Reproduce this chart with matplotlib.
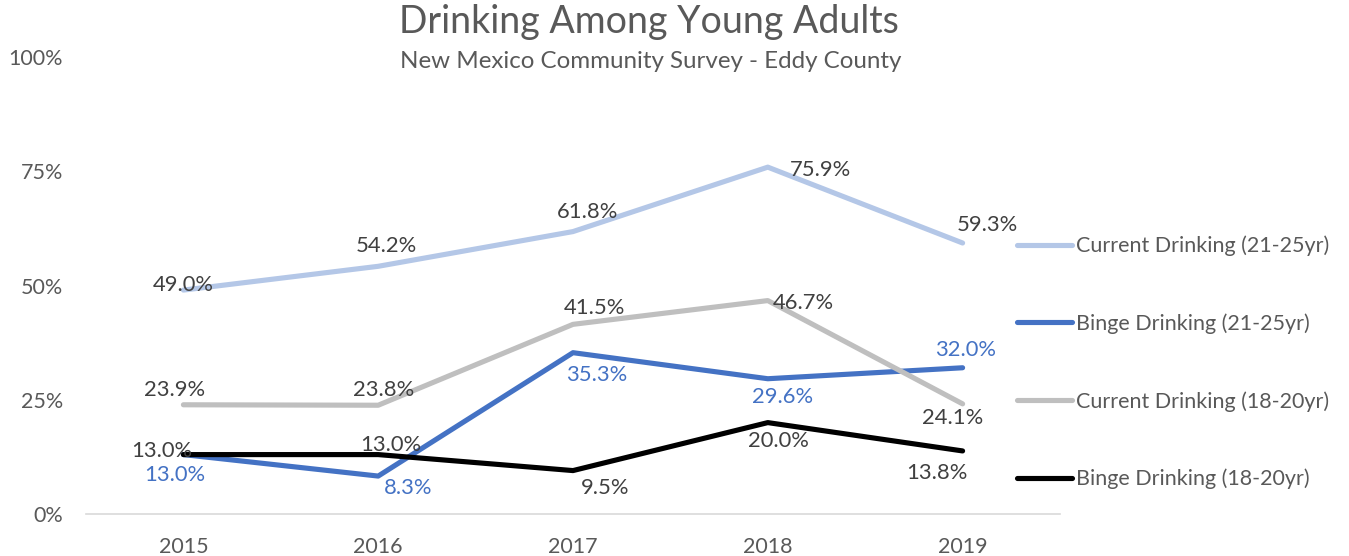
import matplotlib
matplotlib.use("Agg")
import matplotlib.pyplot as plt

plt.rcParams['font.family'] = ['Lato', 'DejaVu Sans']

years = ['2015', '2016', '2017', '2018', '2019']

current_21_25 = [49.0, 54.2, 61.8, 75.9, 59.3]
binge_21_25 = [13.0, 8.3, 35.3, 29.6, 32.0]
current_18_20 = [23.9, 23.8, 41.5, 46.7, 24.1]
binge_18_20 = [13.0, 13.0, 9.5, 20.0, 13.8]

series_names = ['Current Drinking (21-25yr)', 'Binge Drinking (21-25yr)',
                'Current Drinking (18-20yr)', 'Binge Drinking (18-20yr)']
series_values = [current_21_25, binge_21_25, current_18_20, binge_18_20]
line_colors = ['#B4C7E7', '#4472C4', '#BFBFBF', '#000000']
label_colors = ['#404040', '#4472C4', '#404040', '#404040']

# label offsets (pixels) from each point, hand placed to avoid overlaps
label_offsets = [
    [(0, 5), (8, 20), (15, 20), (53, -3), (25, 18)],
    [(-9, -20), (30, -12), (24, -22), (15, -18), (3, 18)],
    [(-9, 15), (5, 15), (21, 16), (36, -2), (-10, -14)],
    [(-22, 4), (13, 10), (32, -17), (11, -18), (-26, -22)],
]

dpi = 100
fig = plt.figure(figsize=(1349 / dpi, 556 / dpi), dpi=dpi)
ax = fig.add_axes([86 / 1349, 1 - 514 / 556, (1060 - 86) / 1349, (514 - 57) / 556])

x = range(len(years))
handles = []
for name, vals, lc, tc, offs in zip(series_names, series_values, line_colors,
                                    label_colors, label_offsets):
    h, = ax.plot(x, vals, color=lc, lw=3.7, solid_capstyle='round',
                 solid_joinstyle='round', label=name)
    handles.append(h)
    for xi, v, (dx, dy) in zip(x, vals, offs):
        ax.annotate(f'{v:.1f}%', (xi, v), xytext=(dx * 72 / dpi, dy * 72 / dpi),
                    textcoords='offset points', ha='center', va='center',
                    fontsize=15.8, color=tc, zorder=10)

ax.set_xlim(-0.5, 4.5)
ax.set_ylim(0, 100)
ax.set_xticks(list(x))
ax.set_xticklabels(years)
ax.set_yticks([0, 25, 50, 75, 100])
ax.set_yticklabels(['0%', '25%', '50%', '75%', '100%'])
ax.tick_params(length=0, labelsize=15.5, colors='#595959')
ax.tick_params(axis='y', pad=16.5)
ax.tick_params(axis='x', pad=16.5)
for side in ['top', 'right', 'left']:
    ax.spines[side].set_visible(False)
ax.spines['bottom'].set_color('#D9D9D9')
ax.spines['bottom'].set_linewidth(1.2)

fig.text(649 / 1349, 1 - 22 / 556, 'Drinking Among Young Adults', ha='center',
         va='center', fontsize=27, color='#595959')
fig.text(651 / 1349, 1 - 62 / 556, 'New Mexico Community Survey - Eddy County',
         ha='center', va='center', fontsize=17.4, color='#595959')

fig.legend(handles=handles, loc='center left',
           bbox_to_anchor=(1017 / 1349, 1 - 362.5 / 556), frameon=False,
           fontsize=15.5, labelcolor='#595959', handlelength=2.55,
           handletextpad=0.2, labelspacing=2.65, borderpad=0, borderaxespad=0)

fig.savefig('out.png', dpi=dpi)
